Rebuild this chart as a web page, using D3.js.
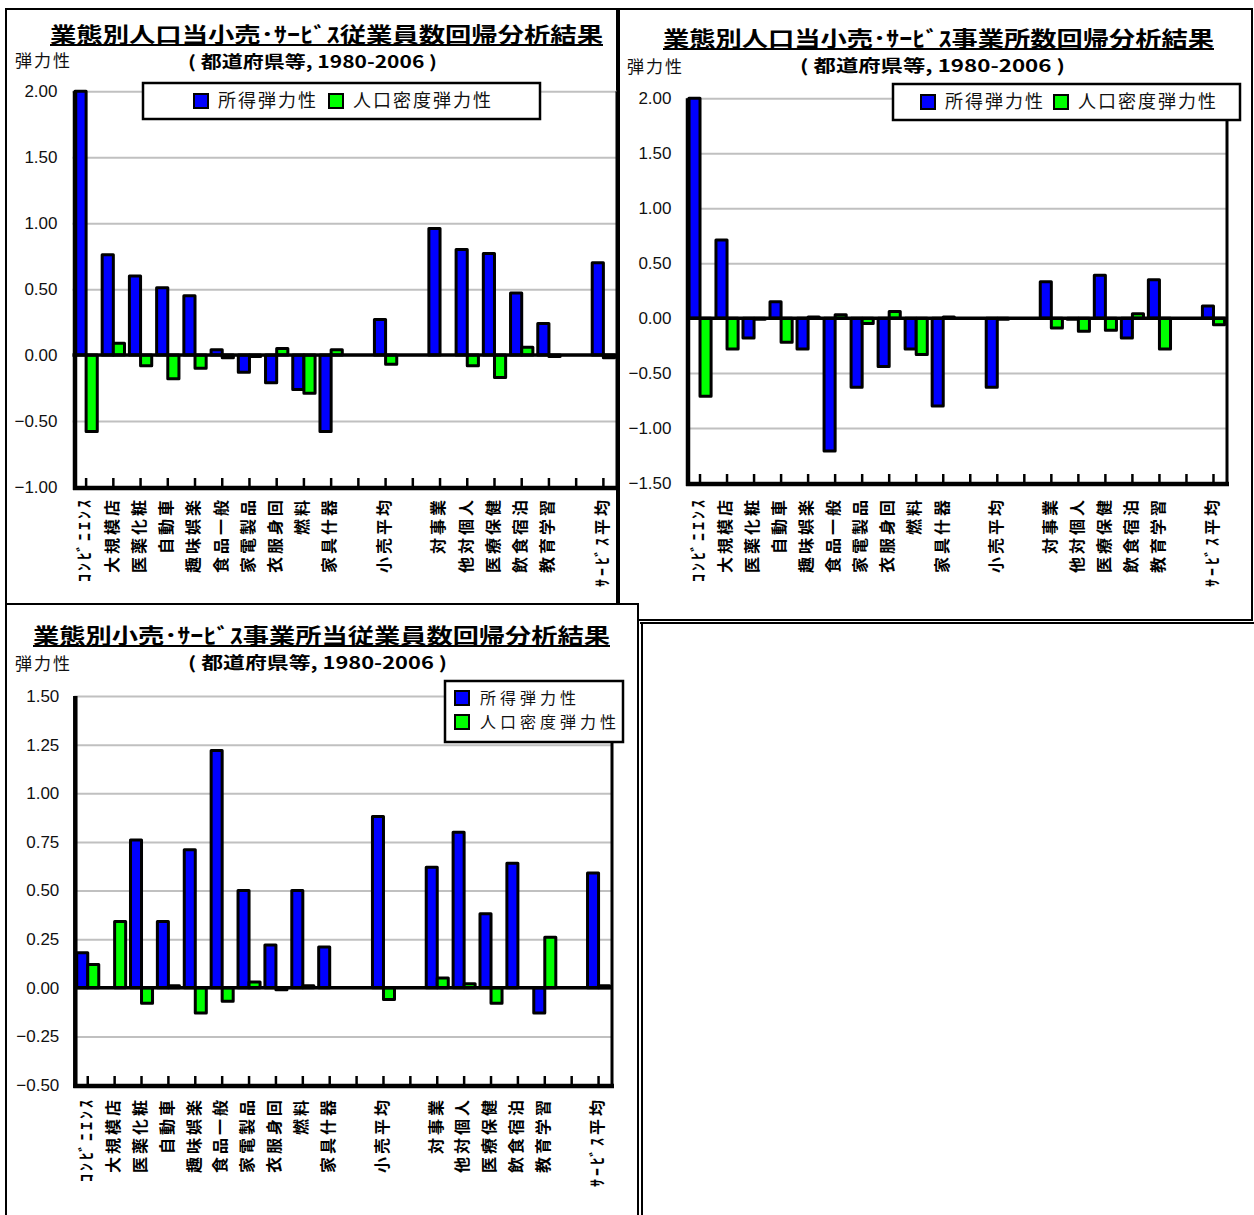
<!DOCTYPE html>
<html>
<head>
<meta charset="utf-8">
<script src="https://cdn.jsdelivr.net/npm/d3@7"></script>
<style>
  body { margin: 0; background: #fff; }
  svg { display: block; }
</style>
</head>
<body>
<svg id="sheet" width="1254" height="1215"></svg>
<script>
// 業種区分（空文字は区切りの空き枠）
const categories = [
  "ｺﾝﾋﾞﾆｴﾝｽ", "大規模店", "医薬化粧", "自動車", "趣味娯楽", "食品一般", "家電製品",
  "衣服身回", "燃料", "家具什器", "", "小売平均", "", "対事業", "他対個人", "医療保健",
  "飲食宿泊", "教育学習", "", "ｻｰﾋﾞｽ平均"
];
const seriesNames = ["所得弾力性", "人口密度弾力性"];

// 人口当従業員数
const employeesIncome  = [2.00, 0.76, 0.60, 0.51, 0.45, 0.04, -0.13, -0.21, -0.26, -0.58, null, 0.27, null, 0.96, 0.80, 0.77, 0.47, 0.24, null, 0.70];
const employeesDensity = [-0.58, 0.09, -0.08, -0.18, -0.10, -0.02, -0.01, 0.05, -0.29, 0.04, null, -0.07, null, 0.00, -0.08, -0.17, 0.06, -0.01, null, -0.02];

// 人口当事業所数
const establishmentsIncome  = [2.00, 0.71, -0.18, 0.15, -0.28, -1.21, -0.63, -0.44, -0.28, -0.80, null, -0.63, null, 0.33, -0.01, 0.39, -0.18, 0.35, null, 0.11];
const establishmentsDensity = [-0.71, -0.28, -0.01, -0.22, 0.01, 0.03, -0.05, 0.06, -0.33, 0.01, null, -0.01, null, -0.09, -0.12, -0.11, 0.04, -0.28, null, -0.06];

// 事業所当従業員数
const perEstablishmentIncome  = [0.18, null, 0.76, 0.34, 0.71, 1.22, 0.50, 0.22, 0.50, 0.21, null, 0.88, null, 0.62, 0.80, 0.38, 0.64, -0.13, null, 0.59];
const perEstablishmentDensity = [0.12, 0.34, -0.08, 0.01, -0.13, -0.07, 0.03, -0.01, 0.01, 0.00, null, -0.06, null, 0.05, 0.02, -0.08, 0.00, 0.26, null, 0.01];

// 目盛
const ticksEmployees = [-1.00, -0.50, 0.00, 0.50, 1.00, 1.50, 2.00];
const ticksEstablishments = [-1.50, -1.00, -0.50, 0.00, 0.50, 1.00, 1.50, 2.00];
const ticksPerEstablishment = [-0.50, -0.25, 0.00, 0.25, 0.50, 0.75, 1.00, 1.25, 1.50];

const titles = [
  "業態別人口当小売･ｻｰﾋﾞｽ従業員数回帰分析結果",
  "業態別人口当小売･ｻｰﾋﾞｽ事業所数回帰分析結果",
  "業態別小売･ｻｰﾋﾞｽ事業所当従業員数回帰分析結果"
];
const subtitle = "( 都道府県等, 1980-2006 )";
const yLabel = "弾力性";

const COLORS = ["#0000ff", "#00ff00"];
const JP = "'Noto Sans CJK JP', 'Noto Sans', sans-serif";
const NUM = "'Liberation Sans', Arial, sans-serif";

const svg = d3.select("#sheet");

function drawChart(cfg) {
  const g = svg.append("g");

  const x = d3.scaleBand().domain(d3.range(categories.length)).range([cfg.left, cfg.right]);
  const y = d3.scaleLinear().domain(cfg.domain).range([cfg.bottom, cfg.top]);
  const step = x.bandwidth();
  const barW = step * 0.41;

  // 目盛線と数値ラベル
  const yAxis = d3.axisLeft(y)
    .tickValues(cfg.ticks)
    .tickFormat(d3.format(".2f"))
    .tickSizeInner(-(cfg.right - cfg.left))
    .tickSizeOuter(0)
    .tickPadding(15);
  const ya = g.append("g").attr("transform", `translate(${cfg.left},0)`).call(yAxis);
  ya.select(".domain").remove();
  ya.selectAll(".tick line")
    .attr("stroke", "#c0c0c0").attr("stroke-width", 2)
    .attr("display", d => (d === cfg.domain[0] ? "none" : null));
  ya.selectAll(".tick text")
    .attr("font-family", NUM).attr("font-size", 17).attr("fill", "#111");

  // 棒
  const series = [cfg.income, cfg.density];
  series.forEach((vals, s) => {
    g.append("g").selectAll("rect")
      .data(vals.map((v, i) => ({ v, i })).filter(d => d.v !== null))
      .join("rect")
      .attr("x", d => x(d.i) + step / 2 - (s === 0 ? barW : 0))
      .attr("width", barW)
      .attr("y", d => y(Math.max(0, d.v)))
      .attr("height", d => Math.abs(y(d.v) - y(0)))
      .attr("fill", COLORS[s])
      .attr("stroke", "#000")
      .attr("stroke-width", 3)
      .attr("stroke-linejoin", "round");
  });

  // ゼロ線
  g.append("line")
    .attr("x1", cfg.left).attr("x2", cfg.right)
    .attr("y1", y(0)).attr("y2", y(0))
    .attr("stroke", "#000").attr("stroke-width", 3.5);

  // 横軸（目盛は内向き）
  const xAxis = d3.axisBottom(x).tickSizeInner(-10).tickSizeOuter(0).tickFormat("");
  const xa = g.append("g").attr("transform", `translate(0,${cfg.bottom + 1})`).call(xAxis);
  xa.select(".domain").remove();
  xa.selectAll(".tick line").attr("stroke", "#000").attr("stroke-width", 2.5);
  g.append("line")
    .attr("x1", cfg.axisX - 2).attr("x2", cfg.right + 2)
    .attr("y1", cfg.bottom + 1).attr("y2", cfg.bottom + 1)
    .attr("stroke", "#000").attr("stroke-width", 4.5);

  // 縦軸と右枠
  g.append("line")
    .attr("x1", cfg.axisX).attr("x2", cfg.axisX)
    .attr("y1", cfg.top).attr("y2", cfg.bottom + 3)
    .attr("stroke", "#000").attr("stroke-width", 4.5);
  g.append("line")
    .attr("x1", cfg.right).attr("x2", cfg.right)
    .attr("y1", cfg.top).attr("y2", cfg.bottom + 3)
    .attr("stroke", "#000").attr("stroke-width", 3);

  // 区分ラベル（縦書き）
  g.append("g").selectAll("text")
    .data(categories.map((c, i) => ({ c, i })).filter(d => d.c !== ""))
    .join("text")
    .attr("transform", d => `translate(${x(d.i) + step / 2 - 1.5},${cfg.labelTop}) rotate(-90)`)
    .attr("text-anchor", "end")
    .attr("dy", "0.36em")
    .attr("font-family", JP)
    .attr("font-weight", 700)
    .attr("font-size", 16)
    .attr("letter-spacing", 3)
    .attr("fill", "#000")
    .text(d => d.c);

  // 凡例
  const lg = cfg.legend;
  g.append("rect")
    .attr("x", lg.x).attr("y", lg.y).attr("width", lg.w).attr("height", lg.h)
    .attr("fill", "#fff").attr("stroke", "#000").attr("stroke-width", 2.5);
  lg.items.forEach((it, s) => {
    g.append("rect")
      .attr("x", it.sx).attr("y", it.sy - 7).attr("width", 14).attr("height", 14)
      .attr("fill", COLORS[s]).attr("stroke", "#000").attr("stroke-width", 2);
    g.append("text")
      .attr("x", it.tx).attr("y", it.sy).attr("dy", "0.36em")
      .attr("font-family", JP).attr("font-size", lg.fontSize).attr("letter-spacing", lg.spacing)
      .attr("fill", "#111")
      .text(seriesNames[s]);
  });

  // 表題と副題
  const t = cfg.title;
  g.append("text")
    .attr("x", t.x0).attr("y", t.base)
    .attr("font-family", JP).attr("font-weight", 700).attr("font-size", 21)
    .attr("textLength", t.x1 - t.x0).attr("lengthAdjust", "spacingAndGlyphs")
    .attr("fill", "#000")
    .text(t.text);
  g.append("line")
    .attr("x1", t.x0).attr("x2", t.x1)
    .attr("y1", t.base + 3).attr("y2", t.base + 3)
    .attr("stroke", "#000").attr("stroke-width", 2);
  g.append("text")
    .attr("x", t.sx0).attr("y", t.sbase)
    .attr("font-family", JP).attr("font-weight", 700).attr("font-size", 17)
    .attr("textLength", t.sx1 - t.sx0).attr("lengthAdjust", "spacingAndGlyphs")
    .attr("fill", "#000")
    .text(subtitle);
  g.append("text")
    .attr("x", cfg.yLabelX).attr("y", cfg.yLabelY).attr("dy", "0.36em")
    .attr("font-family", JP).attr("font-size", 17).attr("letter-spacing", 2)
    .attr("fill", "#111")
    .text(yLabel);
}

// パネル枠
function frame(x, y, w, h) {
  svg.append("rect").attr("x", x).attr("y", y).attr("width", w).attr("height", h)
    .attr("fill", "#fff").attr("stroke", "#000").attr("stroke-width", 2);
}
frame(6, 9, 611, 595);
frame(619, 9, 633, 611);
frame(6, 604, 632, 640);
svg.append("line").attr("x1", 640).attr("x2", 1254).attr("y1", 623).attr("y2", 623)
  .attr("stroke", "#000").attr("stroke-width", 2);
svg.append("line").attr("x1", 642).attr("x2", 642).attr("y1", 623).attr("y2", 1215)
  .attr("stroke", "#000").attr("stroke-width", 2);

drawChart({
  income: employeesIncome, density: employeesDensity, ticks: ticksEmployees,
  domain: [-1, 2], left: 72.5, right: 617, axisX: 75, top: 91.3, bottom: 487, labelTop: 497,
  yLabelX: 15, yLabelY: 61,
  legend: { x: 143, y: 83, w: 397, h: 36, fontSize: 18, spacing: 2,
            items: [{ sx: 194, sy: 101, tx: 218 }, { sx: 329, sy: 101, tx: 353 }] },
  title: { text: titles[0], x0: 50, x1: 603, base: 42, sx0: 188, sx1: 437, sbase: 68 }
});

drawChart({
  income: establishmentsIncome, density: establishmentsDensity, ticks: ticksEstablishments,
  domain: [-1.5, 2], left: 686.5, right: 1227, axisX: 688, top: 98.3, bottom: 483, labelTop: 497,
  yLabelX: 627, yLabelY: 67,
  legend: { x: 893, y: 84, w: 347, h: 36, fontSize: 18, spacing: 2,
            items: [{ sx: 921, sy: 102, tx: 945 }, { sx: 1054, sy: 102, tx: 1078 }] },
  title: { text: titles[1], x0: 663, x1: 1214, base: 46, sx0: 800, sx1: 1065, sbase: 72 }
});

drawChart({
  income: perEstablishmentIncome, density: perEstablishmentDensity, ticks: ticksPerEstablishment,
  domain: [-0.5, 1.5], left: 74.3, right: 612, axisX: 75.3, top: 696, bottom: 1085, labelTop: 1097,
  yLabelX: 15, yLabelY: 664,
  legend: { x: 445, y: 681, w: 178, h: 61, fontSize: 16, spacing: 4,
            items: [{ sx: 455, sy: 698, tx: 480 }, { sx: 455, sy: 722, tx: 480 }] },
  title: { text: titles[2], x0: 33, x1: 610, base: 643, sx0: 188, sx1: 447, sbase: 669 }
});
</script>
</body>
</html>
